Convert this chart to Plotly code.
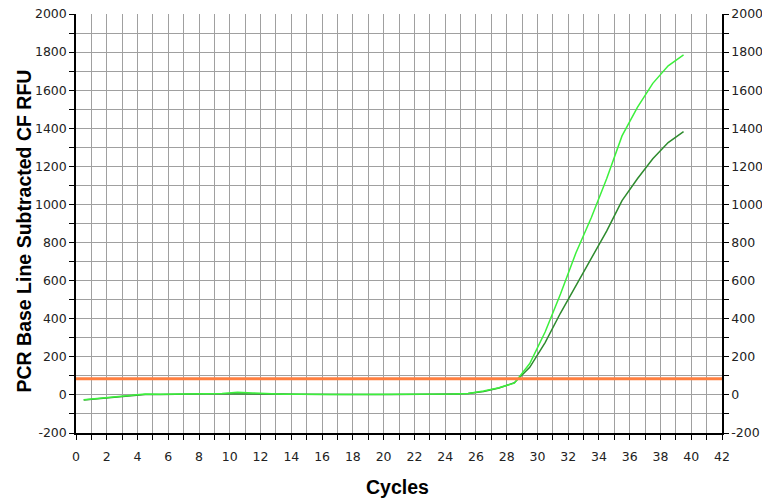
import plotly.graph_objects as go

# ---- data ----
cycles = [0.5, 1.5, 2.5, 3.5, 4.5, 5.5, 6.5, 7.5, 8.5, 9.5,
          10.5, 11.5, 12.5, 13.5, 14.5, 15.5, 16.5, 17.5, 18.5, 19.5,
          20.5, 21.5, 22.5, 23.5, 24.5, 25.5, 26.5, 27.5, 28.5, 29.5,
          30.5, 31.5, 32.5, 33.5, 34.5, 35.5, 36.5, 37.5, 38.5, 39.5]

light_green = [-25, -18, -10, -5, 5, 3, 5, 6, 6, 7,
               14, 10, 6, 4, 3, 4, 2, 2, 2, 2,
               2, 2, 2, 2, 5, 8, 20, 38, 62, 165,
               330, 530, 745, 930, 1135, 1360, 1510, 1636, 1728, 1785]

dark_green = [-27, -20, -12, -6, 2, 2, 5, 5, 6, 6,
              8, 7, 6, 5, 4, 3, 2, 2, 2, 2,
              2, 2, 2, 2, 5, 7, 18, 36, 64, 145,
              275, 430, 575, 715, 860, 1020, 1135, 1240, 1325, 1382]

threshold = 85

x_range = [0, 42]
y_range = [-200, 2000]

y_tick_values = [-200, 0, 200, 400, 600, 800, 1000, 1200, 1400, 1600, 1800, 2000]
y_tick_labels = ["-200", "0", "200", "400", "600", "800", "1000", "1200",
                 "1400", "1600", "1800", "2000"]

x_title = "Cycles"
y_title = "PCR Base Line Subtracted CF RFU"

FONT = "DejaVu Sans"
GRID = "#a0a0a0"

fig = go.Figure()
fig.add_trace(go.Scatter(x=cycles, y=dark_green, mode="lines",
                         line=dict(color="#2e8b2e", width=1.5), showlegend=False))
fig.add_trace(go.Scatter(x=cycles, y=light_green, mode="lines",
                         line=dict(color="#3cf03c", width=1.5), showlegend=False))
# empty trace to activate right-hand axis
fig.add_trace(go.Scatter(x=[None], y=[None], yaxis="y2", showlegend=False, hoverinfo="skip"))

fig.add_shape(type="line", xref="paper", x0=0, x1=1, yref="y", y0=threshold, y1=threshold,
              line=dict(color="#ff7f40", width=3), layer="above")

axis_common = dict(
    automargin=False,
    showline=True, linecolor="black", linewidth=1.5,
    ticks="outside", ticklen=5, tickcolor="black", tickwidth=1.2,
    showgrid=True, gridcolor=GRID, gridwidth=1.4, zeroline=False,
    tickfont=dict(family=FONT, size=12.5, color="#222"),
)

fig.update_layout(
    width=762, height=500,
    margin=dict(l=76, r=40, t=14, b=67),
    paper_bgcolor="white", plot_bgcolor="white",
    xaxis=dict(range=x_range, dtick=2, tick0=0,
               minor=dict(dtick=1, showgrid=True, gridcolor=GRID, gridwidth=1.4,
                          ticks="outside", ticklen=5, tickcolor="black"),
               ticklabelstandoff=6,
               **axis_common),
    yaxis=dict(range=y_range, tickmode="array", tickvals=y_tick_values, ticktext=y_tick_labels,
               minor=dict(dtick=100, tick0=0, showgrid=True, gridcolor=GRID, gridwidth=1.4,
                          ticks="outside", ticklen=5, tickcolor="black"),
               ticklabeloverflow="allow",
               **axis_common),
    yaxis2=dict(range=y_range, tickmode="array", tickvals=y_tick_values, ticktext=y_tick_labels,
                overlaying="y", side="right",
                automargin=False, ticklabeloverflow="allow",
                showline=True, linecolor="black", linewidth=1.5,
                ticks="outside", ticklen=5, tickcolor="black", tickwidth=1.2,
                minor=dict(dtick=100, tick0=0, ticks="outside", ticklen=5, tickcolor="black"),
                showgrid=False, zeroline=False,
                tickfont=dict(family=FONT, size=12.5, color="#222")),
    annotations=[
        dict(text=f"<b>{y_title}</b>", xref="paper", yref="paper", x=0, y=0.5,
             xanchor="center", yanchor="middle", xshift=-53, yshift=-8, textangle=-90,
             showarrow=False, font=dict(family="Liberation Sans", size=19.5, color="black")),
        dict(text=f"<b>{x_title}</b>", xref="paper", yref="paper", x=0.5, y=0,
             xanchor="center", yanchor="middle", xshift=-2, yshift=-54,
             showarrow=False, font=dict(family="Liberation Sans", size=19.5, color="black")),
    ],
)

# remove the default page margin so the figure fills the 762x500 window
fig.write_html("out.html",
               config={"displayModeBar": False},
               post_script="document.body.style.margin='0';document.body.style.overflow='hidden';")
